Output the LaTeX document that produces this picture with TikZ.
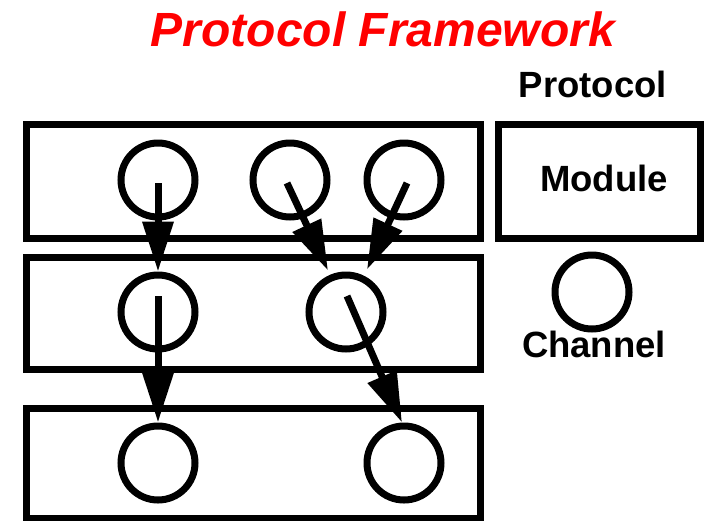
\documentclass[tikz,border=0pt]{standalone}
\usepackage{fontspec}
\setmainfont{Liberation Sans}
\usetikzlibrary{arrows.meta}
\begin{document}
\begin{tikzpicture}[x=1pt,y=-1pt,
  modbox/.style={draw=black,line width=7pt},
  chan/.style={circle,draw=black,line width=7pt,minimum size=74pt,inner sep=0pt,outer sep=3.5pt},
  flow/.style={line width=7pt,-{Triangle[length=50pt,width=30pt]}},
  lbl/.style={font=\fontsize{36.5}{40}\selectfont\bfseries,anchor=base,inner sep=0pt}]
\useasboundingbox (0,0) rectangle (704,520);
% title
\node[font=\fontsize{48}{52}\selectfont\bfseries\itshape,text=red,anchor=base,inner sep=0pt] (title) at (383,46.5) {Protocol Framework};
% module boxes
\draw[modbox] (26,124) rectangle (480,238);
\draw[modbox] (26,257) rectangle (480,369);
\draw[modbox] (26,408) rectangle (480,518);
% channels
\node[chan] (t1) at (158,180) {};
\node[chan] (t2) at (290,180) {};
\node[chan] (t3) at (404,180) {};
\node[chan] (m1) at (158,312) {};
\node[chan] (m2) at (346,312) {};
\node[chan] (b1) at (158,463) {};
\node[chan] (b2) at (404,463) {};
% arrows
\draw[flow] ([yshift=-3pt]t1.center) -- (m1.north);
\draw[flow] ([xshift=-3pt,yshift=-3pt]t2.center) -- ([xshift=-18pt,yshift=1pt]m2.north);
\draw[flow] ([xshift=3pt,yshift=-3pt]t3.center) -- ([xshift=21pt,yshift=2pt]m2.north);
\draw[flow] ([yshift=16pt]m1.center) -- (b1.north);
\draw[flow] ([xshift=1pt,yshift=16pt]m2.center) -- ([xshift=-2pt]b2.north);
% legend
\node[lbl] (lp) at (593,97) {Protocol};
\draw[modbox] (498,124) rectangle (700,238);
\node[lbl] (lm) at (604,191) {Module};
\node[chan] (lc) at (592,292) {};
\node[lbl] (lch) at (594,357) {Channel};
\end{tikzpicture}
\end{document}
